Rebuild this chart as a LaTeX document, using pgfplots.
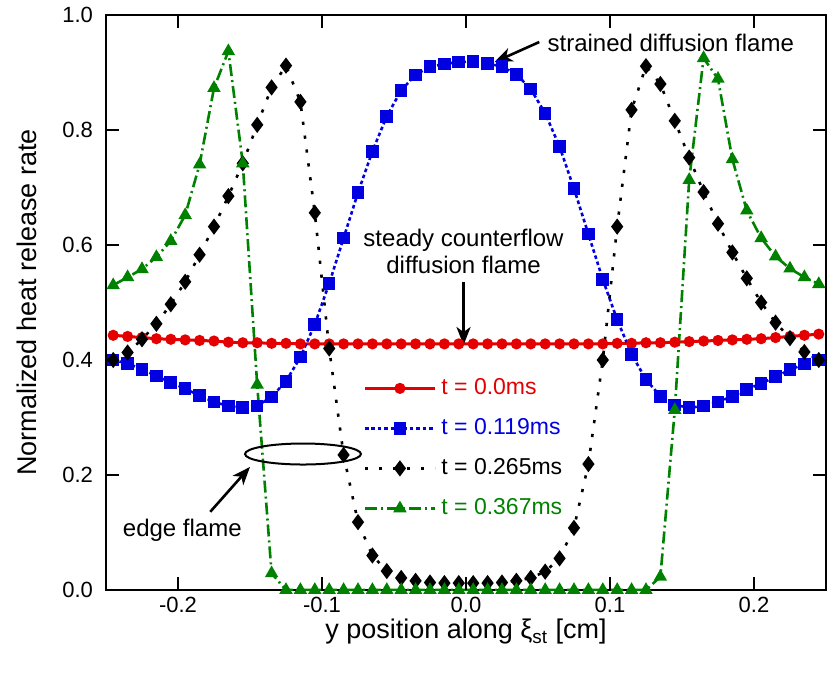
\documentclass[border=0pt]{standalone}
\usepackage{pgfplots}
\pgfplotsset{compat=1.18}
\usepackage{pgfplotstable}
\usepackage{fontspec}
\setmainfont{Liberation Sans}
\usetikzlibrary{arrows.meta}
\definecolor{cRed}{RGB}{228,0,0}
\definecolor{cBlue}{RGB}{0,0,225}
\definecolor{cGreen}{RGB}{0,130,0}

% heat release profiles, columns: t=0.0, 0.119, 0.265, 0.367 ms
\pgfplotstableread{
x r b k g
-0.245 0.443 0.400 0.400 0.530
-0.235 0.441 0.394 0.413 0.544
-0.225 0.439 0.384 0.436 0.558
-0.215 0.437 0.372 0.463 0.579
-0.205 0.436 0.361 0.497 0.607
-0.195 0.435 0.350 0.536 0.652
-0.185 0.434 0.338 0.583 0.740
-0.175 0.433 0.327 0.632 0.873
-0.165 0.431 0.320 0.685 0.937
-0.155 0.430 0.317 0.742 0.742
-0.145 0.430 0.320 0.809 0.357
-0.135 0.429 0.336 0.874 0.029
-0.125 0.429 0.363 0.912 0.000
-0.115 0.428 0.405 0.849 0.000
-0.105 0.428 0.462 0.656 0.000
-0.095 0.428 0.533 0.420 0.000
-0.085 0.428 0.612 0.235 0.000
-0.075 0.428 0.691 0.118 0.000
-0.065 0.428 0.763 0.060 0.000
-0.055 0.428 0.824 0.033 0.000
-0.045 0.428 0.869 0.021 0.000
-0.035 0.428 0.896 0.016 0.000
-0.025 0.428 0.910 0.013 0.000
-0.015 0.428 0.915 0.012 0.000
-0.005 0.428 0.918 0.012 0.000
0.005 0.428 0.919 0.012 0.000
0.015 0.428 0.916 0.012 0.000
0.025 0.428 0.910 0.013 0.000
0.035 0.428 0.897 0.016 0.000
0.045 0.428 0.871 0.021 0.000
0.055 0.428 0.829 0.032 0.000
0.065 0.428 0.771 0.055 0.000
0.075 0.428 0.698 0.108 0.000
0.085 0.428 0.619 0.219 0.000
0.095 0.428 0.540 0.400 0.000
0.105 0.429 0.470 0.632 0.000
0.115 0.429 0.410 0.835 0.000
0.125 0.430 0.366 0.911 0.000
0.135 0.430 0.337 0.880 0.023
0.145 0.431 0.322 0.816 0.313
0.155 0.432 0.317 0.752 0.713
0.165 0.433 0.320 0.692 0.925
0.175 0.434 0.327 0.637 0.889
0.185 0.435 0.337 0.587 0.749
0.195 0.436 0.349 0.542 0.660
0.205 0.437 0.359 0.500 0.612
0.215 0.439 0.371 0.465 0.580
0.225 0.441 0.383 0.438 0.559
0.235 0.443 0.393 0.414 0.544
0.245 0.445 0.400 0.400 0.532
}\hrr

\begin{document}
\begin{tikzpicture}
\path[use as bounding box] (-53pt,-43.5pt) rectangle (360.5pt,295pt);
\begin{axis}[
  scale only axis, width=360pt, height=287.5pt,
  xmin=-0.25, xmax=0.25, ymin=0, ymax=1,
  xtick={-0.2,-0.1,0,0.1,0.2}, ytick={0,0.2,0.4,0.6,0.8,1.0},
  xtick pos=both, ytick pos=both,
  tick align=inside, major tick length=6.5pt,
  axis line style={line width=1.4pt},
  every major tick/.append style={line width=1.4pt, black},
  /pgf/number format/assume math mode=true,
  /pgf/number format/fixed,
  /pgf/number format/fixed zerofill,
  /pgf/number format/precision=1,
  tick label style={font=\fontsize{11}{13}\selectfont},
  yticklabel style={xshift=-3pt},
  xlabel={y position along ξ\textsubscript{st} [cm]},
  ylabel={Normalized heat release rate},
  label style={font=\fontsize{13.5}{16}\selectfont},
  xlabel style={at={(axis description cs:0.5,-0.073)}, anchor=center},
  ylabel style={at={(axis description cs:-0.1097,0.5)}, anchor=center},
  legend cell align=left,
  legend style={draw=none, fill=none, inner sep=0pt,
    at={(axis description cs:0.357,0.3696)}, anchor=north west,
    font=\fontsize{11.5}{13}\selectfont, row sep=9.5pt,
    nodes={inner sep=0pt, text height=8.5pt, text depth=2pt},
    /tikz/every odd column/.append style={column sep=2.5pt}},
  legend image code/.code={\draw[mark repeat=2, mark phase=2, #1]
    plot coordinates {(0pt,0pt) (17.5pt,0pt) (35pt,0pt)};},
]
\addplot[cRed, line width=1.5pt, mark=*, mark size=2pt, mark options={solid}]
  table[x=x, y=r] {\hrr};
\addlegendentry{\textcolor{cRed}{t = 0.0ms}}
\addplot[cBlue, line width=1.3pt, dash pattern=on 1.8pt off 1.4pt,
  mark=square*, mark size=2.5pt, mark options={solid}]
  table[x=x, y=b] {\hrr};
\addlegendentry{\textcolor{cBlue}{t = 0.119ms}}
\addplot[black, line width=1.3pt, dash pattern=on 1.6pt off 5.4pt,
  mark=diamond*, mark size=3pt, mark options={solid}]
  table[x=x, y=k] {\hrr};
\addlegendentry{t = 0.265ms}
\addplot[cGreen, line width=1.3pt, dash pattern=on 6pt off 2pt on 1pt off 2pt,
  mark=triangle*, mark size=2.6pt, mark options={solid}]
  table[x=x, y=g] {\hrr};
\addlegendentry{\textcolor{cGreen}{t = 0.367ms}}

% inward ticks on all four sides
\pgfplotsinvokeforeach{-0.2,-0.1,0,0.1,0.2}{
  \draw[line width=1.4pt] (axis cs:#1,0) -- ([yshift=6.5pt]axis cs:#1,0);
  \draw[line width=1.4pt] (axis cs:#1,1) -- ([yshift=-6.5pt]axis cs:#1,1);
}
\pgfplotsinvokeforeach{0.2,0.4,0.6,0.8}{
  \draw[line width=1.4pt] (axis cs:-0.25,#1) -- ([xshift=6.5pt]axis cs:-0.25,#1);
  \draw[line width=1.4pt] (axis cs:0.25,#1) -- ([xshift=-6.5pt]axis cs:0.25,#1);
}

% annotations
\draw[line width=1.3pt, -{Stealth[length=9pt,width=7pt,inset=2.5pt]}]
  (axis cs:0.0509,0.953) -- (axis cs:0.0197,0.918);
\node[anchor=west, inner sep=0pt, font=\fontsize{12}{14}\selectfont]
  at (axis cs:0.0564,0.951) {strained diffusion flame};
\node[align=center, inner sep=0pt, font=\fontsize{12}{13.5}\selectfont]
  at (axis cs:-0.0017,0.589) {steady counterflow\\diffusion flame};
\draw[line width=1.3pt, -{Stealth[length=9pt,width=7pt,inset=2.5pt]}]
  (axis cs:-0.0017,0.536) -- (axis cs:-0.0017,0.426);
\node[inner sep=0pt, font=\fontsize{12}{14}\selectfont]
  at (axis cs:-0.197,0.104) {edge flame};
\draw[line width=1.3pt, -{Stealth[length=9pt,width=7pt,inset=2.5pt]}]
  (axis cs:-0.1776,0.136) -- (axis cs:-0.150,0.214);
\draw[line width=1pt] (axis cs:-0.1132,0.2365) ellipse [x radius=29pt, y radius=5.25pt];
\end{axis}
\end{tikzpicture}
\end{document}
